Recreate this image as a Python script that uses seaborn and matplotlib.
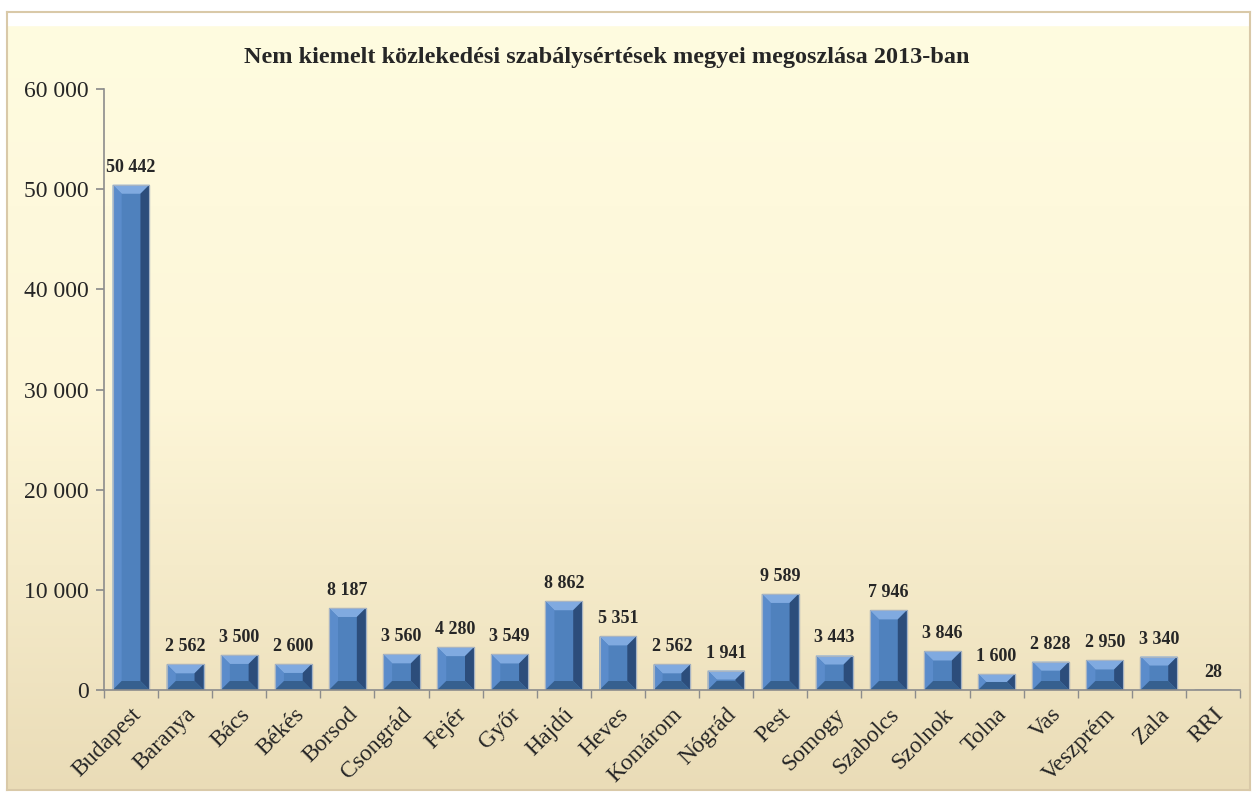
import numpy as np
import pandas as pd
import matplotlib
matplotlib.use('Agg')
import matplotlib.pyplot as plt
import matplotlib.ticker as mticker
from matplotlib.colors import LinearSegmentedColormap
from matplotlib.patches import Polygon
import seaborn as sns

# Data
megyek = ['Budapest', 'Baranya', 'Bács', 'Békés', 'Borsod', 'Csongrád', 'Fejér',
          'Győr', 'Hajdú', 'Heves', 'Komárom', 'Nógrád', 'Pest', 'Somogy',
          'Szabolcs', 'Szolnok', 'Tolna', 'Vas', 'Veszprém', 'Zala', 'RRI']
esetek = [50442, 2562, 3500, 2600, 8187, 3560, 4280, 3549, 8862, 5351, 2562,
          1941, 9589, 3443, 7946, 3846, 1600, 2828, 2950, 3340, 28]

df = pd.DataFrame({'megye': megyek, 'eset': esetek})

sns.set_theme(style='white')
plt.rcParams['font.family'] = ['Liberation Serif', 'DejaVu Serif']

fig = plt.figure(figsize=(12.56, 7.94), dpi=100)
fig.patch.set_facecolor('white')

# Background panel with a soft cream gradient
bg = fig.add_axes([7 / 1256, 4 / 794, 1243 / 1256, 778 / 794], zorder=-10)
grad = np.linspace(0, 1, 256).reshape(-1, 1)
cmap = LinearSegmentedColormap.from_list('cream', ['#FFFCE0', '#FDF6D8', '#EADCB7'])
bg.imshow(grad, aspect='auto', cmap=cmap, extent=[0, 1, 0, 1], origin='upper')
bg.axhspan(0.983, 1.0, color='white')
bg.set_xlim(0, 1)
bg.set_ylim(0, 1)
bg.set_xticks([])
bg.set_yticks([])
for s in bg.spines.values():
    s.set_color('#D9C9A8')
    s.set_linewidth(1.5)

ax = fig.add_axes([104 / 1256, 1 - 690 / 794, (1240 - 104) / 1256, (690 - 89) / 794])
ax.patch.set_alpha(0)

sns.barplot(data=df, x='megye', y='eset', color='#4F81BD', width=0.68,
            edgecolor='#2A4B78', linewidth=0.8, saturation=1, ax=ax)

ax.set_ylim(0, 60000)
ax.set_xlim(-0.5, len(megyek) - 0.5)

# bevel look on each bar (geometry taken from the drawn patches)
px_x = len(megyek) / 1136.0
px_y = 60000 / 601.0
for p in list(ax.patches):
    x0, y0, w, h = p.get_x(), p.get_y(), p.get_width(), p.get_height()
    if h <= 0:
        continue
    bpx = min(9, (h / px_y) / 2)
    bx, by = bpx * px_x, bpx * px_y
    x1, y1 = x0 + w, y0 + h
    faces = [
        ([(x0, y1), (x1, y1), (x1 - bx, y1 - by), (x0 + bx, y1 - by)], '#80AAE0'),
        ([(x0, y0), (x0 + bx, y0 + by), (x0 + bx, y1 - by), (x0, y1)], '#5B8CCB'),
        ([(x1, y0), (x1, y1), (x1 - bx, y1 - by), (x1 - bx, y0 + by)], '#2C4D7B'),
        ([(x0, y0), (x1, y0), (x1 - bx, y0 + by), (x0 + bx, y0 + by)], '#36608F'),
    ]
    for pts, c in faces:
        ax.add_patch(Polygon(pts, closed=True, facecolor=c, edgecolor='none', zorder=p.get_zorder() + 0.1))
    ax.add_patch(Polygon([(x0, y0), (x1, y0), (x1, y1), (x0, y1)], closed=True, fill=False,
                         edgecolor='#A7B4C4', linewidth=0.8, zorder=p.get_zorder() + 0.2))

for i, v in enumerate(esetek):
    ax.text(i, v + 900, f'{v:,}'.replace(',', ' '), ha='center', va='bottom',
            fontsize=13, fontweight='bold')

ax.yaxis.set_major_locator(mticker.MultipleLocator(10000))
ax.yaxis.set_major_formatter(mticker.FuncFormatter(lambda x, p: f'{int(x):,}'.replace(',', ' ')))
ax.set_xlabel('')
ax.set_ylabel('')

for s in ['top', 'right']:
    ax.spines[s].set_visible(False)
for s in ['left', 'bottom']:
    ax.spines[s].set_color('#8C8C8C')
    ax.spines[s].set_linewidth(1.2)

ax.tick_params(axis='y', left=True, length=6, color='#8C8C8C', labelsize=17, pad=5)
ax.set_xticks(np.arange(len(megyek)))
ax.set_xticklabels(megyek, rotation=45, ha='right', rotation_mode='anchor', fontsize=17)
ax.tick_params(axis='x', bottom=False, pad=4)
ax.set_xticks(np.arange(-0.5, len(megyek)), minor=True)
ax.tick_params(axis='x', which='minor', bottom=True, length=6, color='#8C8C8C')

fig.text(607 / 1256, 1 - 57 / 794, 'Nem kiemelt közlekedési szabálysértések megyei megoszlása 2013-ban',
         ha='center', va='center', fontsize=17.5, fontweight='bold')

fig.savefig('out.png', dpi=100)
